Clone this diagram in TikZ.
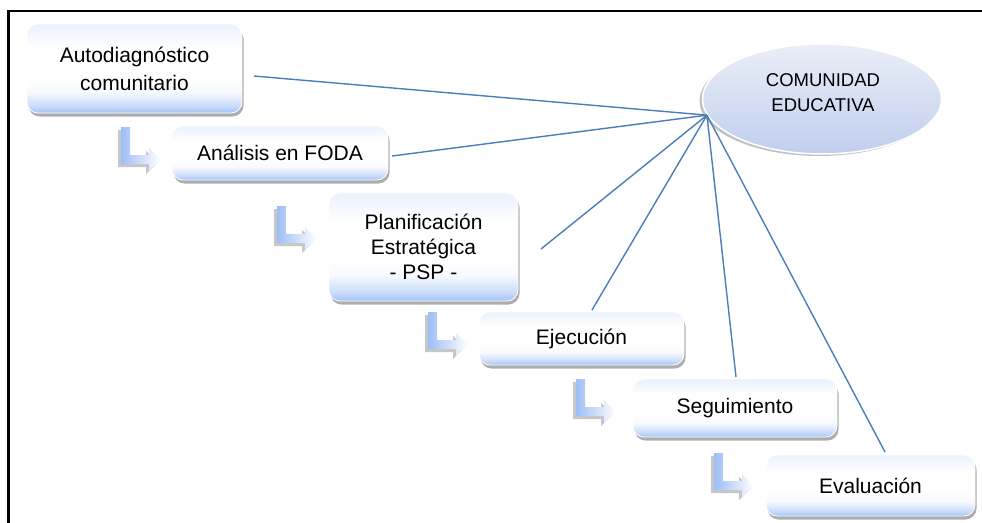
\documentclass[tikz,border=0pt]{standalone}
\usepackage{fontspec}
\setmainfont{Liberation Sans}
\usetikzlibrary{shapes.geometric,shadows}
\definecolor{lineblue}{HTML}{4A7EBB}
\definecolor{boxblue}{HTML}{A3C2F7}
\definecolor{boxmid}{HTML}{CADCFB}
\definecolor{boxtop}{HTML}{EAF0FD}
\definecolor{elltop}{HTML}{EBEEF7}
\definecolor{ellbot}{HTML}{C0CFEE}
\definecolor{arrblue}{HTML}{9EBEF6}
\pgfdeclareverticalshading{boxsh}{100bp}{color(0bp)=(boxblue); color(25bp)=(boxblue); color(29bp)=(boxmid); color(37bp)=(white!92!boxblue); color(45bp)=(white); color(62bp)=(white); color(75bp)=(boxtop); color(100bp)=(boxtop)}
\tikzset{
  stagebox/.style={rectangle, rounded corners=11pt, draw=white, line width=0.8pt,
    shading=boxsh,
    drop shadow={shadow xshift=1.5pt, shadow yshift=-3.5pt, fill=black!40, opacity=0.8},
    align=center, inner sep=0pt, font=\fontsize{21}{26}\selectfont},
  link/.style={draw=lineblue, line width=1.4pt},
  larrow/.pic={
    \fill[black!22, shift={(-3,3)}] (0,0) -- (9,0) -- (9,28) -- (28,28) -- (28,21) -- (40,32.5) -- (28,44) -- (28,37) -- (0,37) -- cycle;
    \shade[left color=arrblue, right color=white] (0,0) -- (9,0) -- (9,28) -- (28,28) -- (28,21) -- (40,32.5) -- (28,44) -- (28,37) -- (0,37) -- cycle;
  }
}
\begin{document}
\begin{tikzpicture}[x=1pt, y=-1pt]
\useasboundingbox (0,0) rectangle (982,522);
% frame
\draw[line width=2.5pt, line cap=rect] (8.5,522) -- (8.5,11) -- (982,11);

% stage boxes
\node[stagebox, minimum width=215pt, minimum height=89pt, font=\fontsize{21}{28}\selectfont] (b1) at (134.5,68.5) {Autodiagnóstico\\comunitario};
\node[stagebox, minimum width=216pt, minimum height=54pt] (b2) at (280,153) {Análisis en FODA};
\node[stagebox, minimum width=189pt, minimum height=108pt, font=\fontsize{21}{25}\selectfont] (b3) at (423.5,247) {Planificación\\Estratégica\\- PSP -};
\node[stagebox, minimum width=205pt, minimum height=53pt] (b4) at (581.5,338.5) {Ejecución};
\node[stagebox, minimum width=204pt, minimum height=58pt] (b5) at (735,408) {Seguimiento};
\node[stagebox, minimum width=209pt, minimum height=61pt] (b6) at (870.5,485.5) {Evaluación};

% bent arrows
\pic at (121,127) {larrow};
\pic at (277,206) {larrow};
\pic at (428,312) {larrow};
\pic at (576,379) {larrow};
\pic at (714,453) {larrow};

% community ellipse
\node[ellipse, minimum width=239pt, minimum height=110pt, draw=white, line width=1.5pt,
  top color=elltop, bottom color=ellbot,
  drop shadow={shadow xshift=-3pt, shadow yshift=-2pt, fill=black!40, opacity=0.6}] (ce) at (822,99) {};
\node[align=center, inner sep=0pt, font=\fontsize{18.5}{25}\selectfont] (cet) at (823,93) {COMUNIDAD\\EDUCATIVA};

% link end points
\coordinate (s1) at (254,76);
\coordinate (s2) at (392,156);
\coordinate (s3) at (541,249);
\coordinate (s4) at (592,310);
\coordinate (s5) at (736,377);
\coordinate (s6) at (885,452);
\foreach \s in {s1,s2,s3,s4,s5,s6}
  \draw[link] (\s) -- (ce.188);
\end{tikzpicture}
\end{document}
